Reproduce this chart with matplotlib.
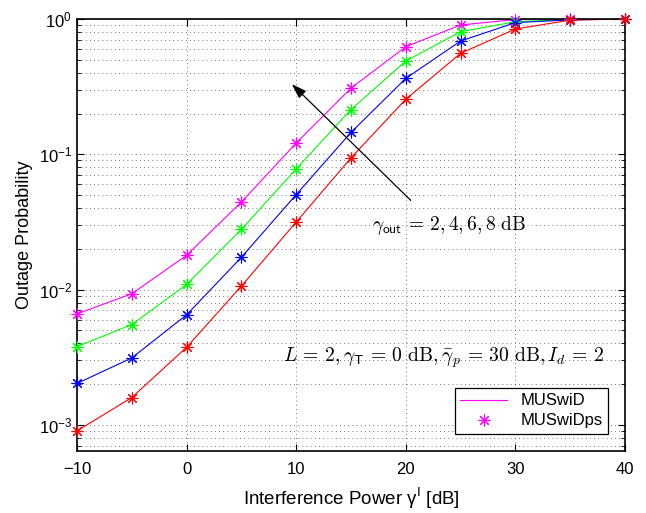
import numpy as np
import matplotlib
matplotlib.use('Agg')
import matplotlib.pyplot as plt
from matplotlib.ticker import LogLocator, NullFormatter, FixedLocator

# interference power gamma^I [dB]
gamma_i = [-10, -5, 0, 5, 10, 15, 20, 25, 30, 35, 40]

# outage probability, gamma_out = 2, 4, 6, 8 dB
p_out_2 = [6.6e-3, 9.3e-3, 0.0179, 0.0443, 0.121, 0.308, 0.624, 0.903, 0.99, 1.0, 1.0]
p_out_4 = [3.78e-3, 5.5e-3, 0.0109, 0.0278, 0.0778, 0.214, 0.489, 0.805, 0.955, 0.99, 1.0]
p_out_6 = [2.02e-3, 3.12e-3, 6.5e-3, 0.0173, 0.0503, 0.145, 0.364, 0.687, 0.94, 0.985, 1.0]
p_out_8 = [9.0e-4, 1.59e-3, 3.74e-3, 0.0106, 0.0315, 0.094, 0.255, 0.557, 0.843, 0.98, 1.0]

curves = [p_out_2, p_out_4, p_out_6, p_out_8]
colors = ['#ff00ff', '#00ff00', '#0000ff', '#ff0000']
star = (8, 2, 0)

plt.rcParams['font.family'] = ['Liberation Sans', 'DejaVu Sans']

fig = plt.figure(figsize=(6.46, 5.13), dpi=100)
ax = fig.add_axes([0.1192, 0.1209, 0.8483, 0.8421])

for i, (p, c) in enumerate(zip(curves, colors)):
    ax.plot(gamma_i, p, color=c, lw=0.8, label='MUSwiD' if i == 0 else None)
    ax.plot(gamma_i, p, color=c, ls='none', marker=star, ms=8.5, mew=0.8,
            clip_on=False, zorder=5, label='MUSwiDps' if i == 0 else None)

ax.set_yscale('log')
ax.set_xlim(-10, 40)
ax.set_ylim(6.4e-4, 1)
ax.xaxis.set_major_locator(FixedLocator([-10, 0, 10, 20, 30, 40]))
ax.yaxis.set_major_locator(LogLocator(base=10, numticks=10))
ax.yaxis.set_minor_locator(LogLocator(base=10, subs=np.arange(2, 10), numticks=10))
ax.yaxis.set_minor_formatter(NullFormatter())

ax.tick_params(which='both', direction='in', top=True, right=True, labelsize=12)
ax.tick_params(which='major', length=5, width=0.8)
ax.tick_params(which='minor', length=3, width=0.6)
ax.tick_params(axis='x', pad=8)
for s in ax.spines.values():
    s.set_linewidth(1.2)

grid_style = dict(color='k', ls=(0, (1, 4)), lw=0.6, alpha=0.7)
ax.grid(True, which='major', **grid_style)
ax.grid(True, which='minor', axis='y', **grid_style)
ax.set_axisbelow(True)

ax.set_xlabel('Interference Power γ$^{\\mathsf{I}}$ [dB]', fontsize=13.5,
              math_fontfamily='dejavusans', labelpad=6)
ax.set_ylabel('Outage Probability', fontsize=13, labelpad=4)

ax.annotate('', xy=(9.6, 0.33), xytext=(20.45, 0.0456),
            arrowprops=dict(arrowstyle='-|>,head_length=0.9,head_width=0.3',
                            color='k', lw=0.9, shrinkA=0, shrinkB=0))
ax.text(16.9, 0.0298, r'$\gamma_{\mathsf{out}}\, =\, 2, 4, 6, 8\ \mathrm{dB}$',
        fontsize=14, va='center', ha='left', math_fontfamily='cm')
ax.text(8.8, 3.15e-3,
        r'$L\, =\, 2, \gamma_{\mathsf{T}}\, =\, 0\ \mathrm{dB}, \bar{\gamma}_p\, =\, 30\ \mathrm{dB}, I_d\, =\, 2$',
        fontsize=14.2, va='center', ha='left', math_fontfamily='cm')

leg = ax.legend(loc='lower right', fontsize=12, fancybox=False, framealpha=1,
                edgecolor='k', borderaxespad=1.0, handlelength=2.8,
                borderpad=0.35, labelspacing=0.3)
leg.get_frame().set_linewidth(0.9)

fig.savefig('out.png', dpi=100)
